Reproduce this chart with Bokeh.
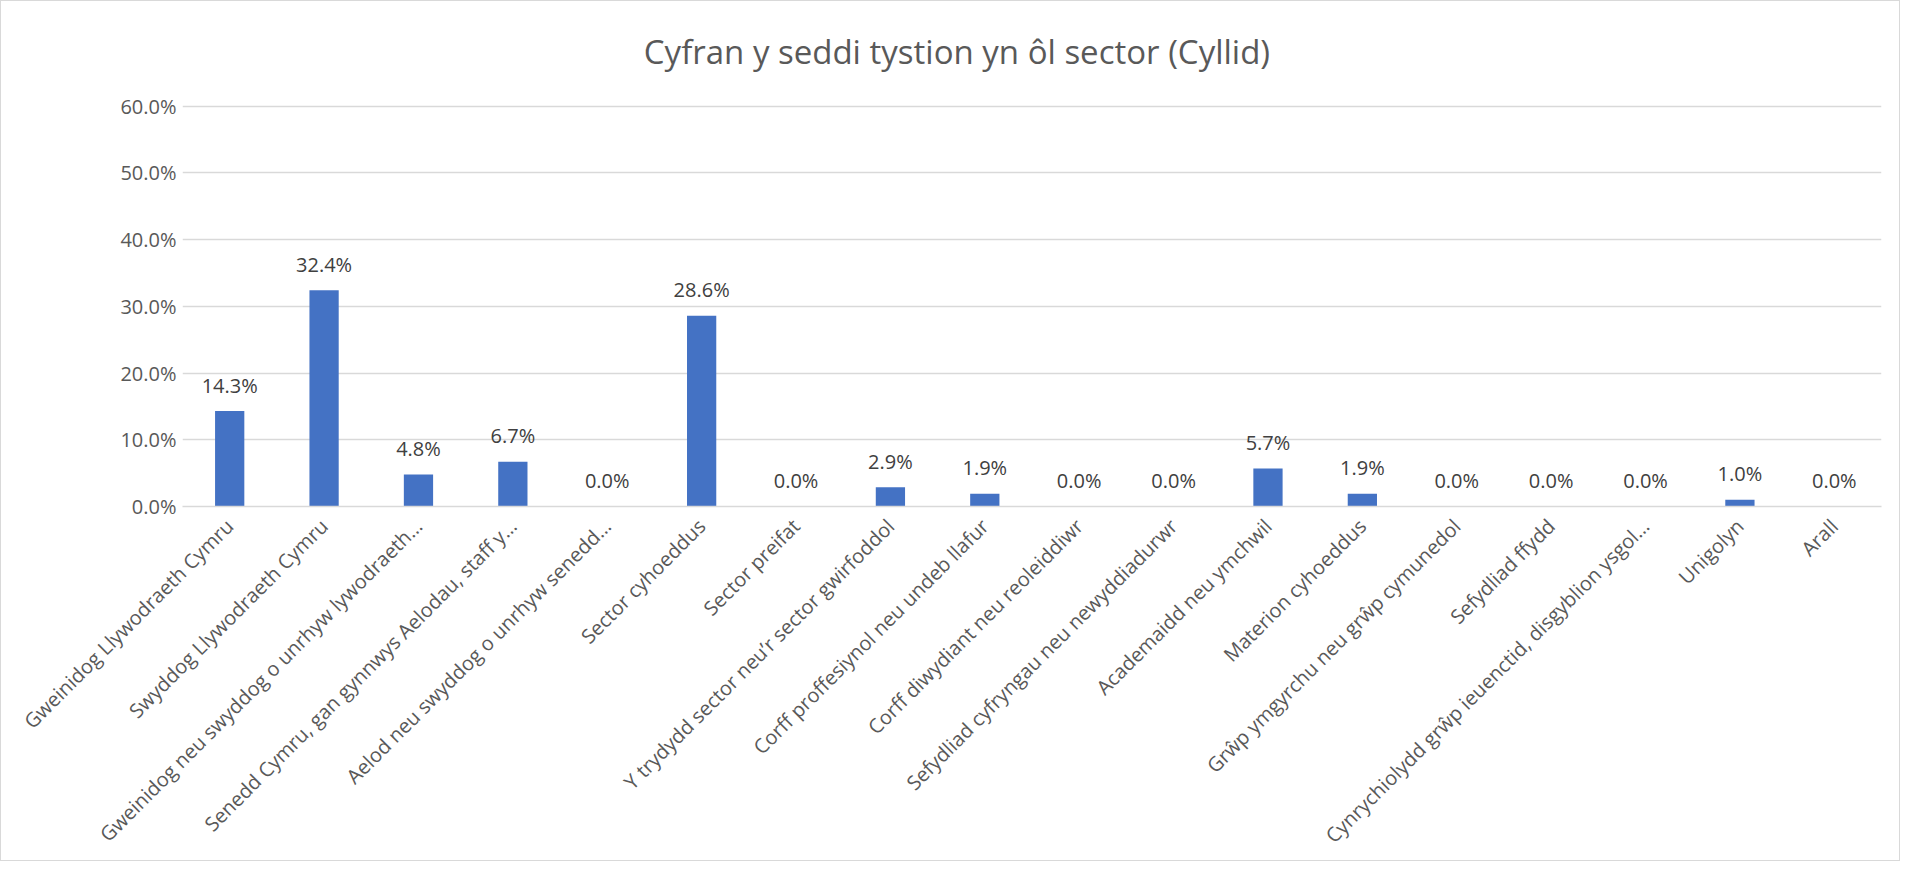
import math
from bokeh.plotting import figure
from bokeh.models import FactorRange, NumeralTickFormatter, ColumnDataSource, FixedTicker, Label
from bokeh.core.properties import value
from bokeh.embed import file_html
from bokeh.resources import INLINE

categories = [
    "Gweinidog Llywodraeth Cymru",
    "Swyddog Llywodraeth Cymru",
    "Gweinidog neu swyddog o unrhyw lywodraeth\u2026",
    "Senedd Cymru, gan gynnwys Aelodau, staff y\u2026",
    "Aelod neu swyddog o unrhyw senedd\u2026",
    "Sector cyhoeddus",
    "Sector preifat",
    "Y trydydd sector neu\u2019r sector gwirfoddol",
    "Corff proffesiynol neu undeb llafur",
    "Corff diwydiant neu reoleiddiwr",
    "Sefydliad cyfryngau neu newyddiadurwr",
    "Academaidd neu ymchwil",
    "Materion cyhoeddus",
    "Gr\u0175p ymgyrchu neu gr\u0175p cymunedol",
    "Sefydliad ffydd",
    "Cynrychiolydd gr\u0175p ieuenctid, disgyblion ysgol\u2026",
    "Unigolyn",
    "Arall",
]
values = [0.143, 0.324, 0.048, 0.067, 0.0, 0.286, 0.0, 0.029, 0.019, 0.0,
          0.0, 0.057, 0.019, 0.0, 0.0, 0.0, 0.010, 0.0]
y_ticks = [0.0, 0.1, 0.2, 0.3, 0.4, 0.5, 0.6]
title_text = "Cyfran y seddi tystion yn \u00f4l sector (Cyllid)"

FONT = "Open Sans"
src = ColumnDataSource(dict(
    cat=categories,
    val=values,
    lab=[f"{v*100:.1f}%" for v in values],
))

# the frame is extended above the 60% gridline so the title can sit inside it
p = figure(
    width=1900, height=861,
    x_range=FactorRange(*categories, range_padding=0.0),
    y_range=(0, 0.742),
    output_backend="svg", toolbar_location=None,
    min_border_left=181, min_border_right=20, min_border_top=10, min_border_bottom=356,
)
p.x_range.range_padding = 0.0

title = Label(x=8.205, y=0.6827, text=title_text, text_align="center", text_baseline="middle",
              text_font=FONT, text_font_size="33px", text_color="#595959")
p.add_layout(title)

p.vbar(x="cat", top="val", width=0.31, source=src, color="#4472C4", line_color=None)
p.text(x="cat", y="val", text="lab", source=src, text_align="center", text_baseline="middle",
       y_offset=-26, text_font=value(FONT), text_font_size="20px", text_color="#404040")

p.outline_line_color = None
p.background_fill_color = "white"
p.border_fill_color = "white"

p.xgrid.grid_line_color = None
p.ygrid.grid_line_color = "#d9d9d9"
p.ygrid.grid_line_width = 1.5
p.ygrid.ticker = FixedTicker(ticks=y_ticks)

p.yaxis.ticker = FixedTicker(ticks=y_ticks)
p.yaxis.formatter = NumeralTickFormatter(format="0.0%")
p.yaxis.axis_line_color = None
p.yaxis.major_tick_line_color = None
p.yaxis.minor_tick_line_color = None
p.yaxis.major_label_text_font = FONT
p.yaxis.major_label_text_font_size = "20px"
p.yaxis.major_label_text_color = "#595959"
p.yaxis.major_label_standoff = 0

p.xaxis.axis_line_color = "#d9d9d9"
p.xaxis.axis_line_width = 1.5
p.xaxis.major_tick_line_color = None
p.xaxis.minor_tick_line_color = None
p.xaxis.major_label_orientation = math.pi / 4
p.xaxis.major_label_text_font = FONT
p.xaxis.major_label_text_font_size = "20px"
p.xaxis.major_label_text_color = "#595959"
p.xaxis.major_label_standoff = 10

p.styles = {"border": "1.5px solid #d9d9d9", "box-sizing": "border-box"}

open("out.html", "w").write(file_html(p, INLINE))
